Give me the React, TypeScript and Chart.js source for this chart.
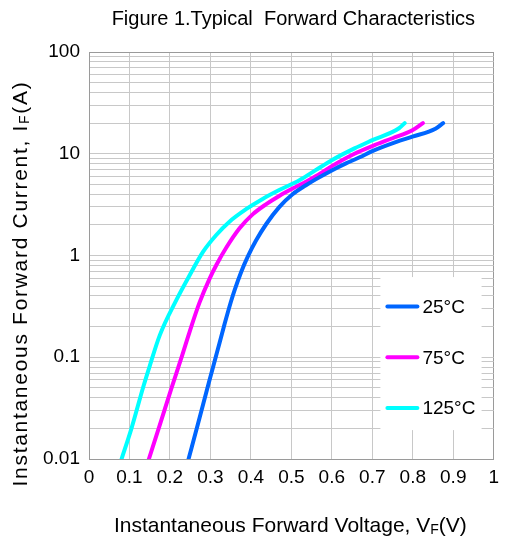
import { useEffect, useRef } from 'react';
import { Chart, registerables } from 'chart.js';

Chart.register(...registerables);

const FONT = '"Liberation Sans", Arial, sans-serif';

const chartTitle = 'Figure 1.Typical  Forward Characteristics';
const xTitleMain = 'Instantaneous Forward Voltage, V';
const yTitleMain = 'Instantaneous Forward Current, I';
const titleSub = 'F';
const xTitleUnit = '(V)';
const yTitleUnit = '(A)';

const seriesLabels = ['25°C', '75°C', '125°C'];
const seriesColors = ['#0066FF', '#FF00FF', '#00FFFF'];

// 25°C
const vf25 = [0.246, 0.269, 0.298, 0.3145, 0.335, 0.351, 0.360, 0.376, 0.392, 0.413, 0.438, 0.470, 0.503, 0.536, 0.560, 0.601, 0.635, 0.676, 0.700, 0.758, 0.799, 0.856, 0.875];
const if25 = [0.01, 0.022, 0.06, 0.105, 0.212, 0.355, 0.46, 0.69, 0.97, 1.41, 2.04, 2.99, 4.0, 4.9, 5.6, 6.9, 8.05, 9.5, 10.6, 13.0, 14.7, 17.6, 20];
// 75°C
const vf75 = [0.148, 0.175, 0.204, 0.228, 0.249, 0.273, 0.298, 0.315, 0.339, 0.372, 0.405, 0.438, 0.470, 0.503, 0.536, 0.560, 0.601, 0.656, 0.700, 0.750, 0.799, 0.825];
const if75 = [0.01, 0.0216, 0.05, 0.098, 0.18, 0.344, 0.593, 0.81, 1.19, 1.85, 2.55, 3.2, 3.85, 4.55, 5.3, 6.0, 7.6, 10.0, 11.9, 14.2, 17.0, 20];
// 125°C
const vf125 = [0.0805, 0.105, 0.134, 0.150, 0.175, 0.216, 0.249, 0.282, 0.3145, 0.347, 0.388, 0.429, 0.470, 0.520, 0.560, 0.601, 0.656, 0.700, 0.766, 0.780];
const if125 = [0.01, 0.02, 0.051, 0.082, 0.165, 0.366, 0.643, 1.09, 1.59, 2.15, 2.85, 3.6, 4.4, 5.5, 6.9, 8.7, 11.3, 13.6, 17.8, 20];

const xMin = 0;
const xMax = 1;
const xStep = 0.1;
const yMin = 0.01;
const yMax = 100;
const yMantissas = [1, 2, 3, 4, 5, 6, 7, 8, 9];

type Seg = { text: string; size: number; dy?: number };

function drawRich(
  ctx: CanvasRenderingContext2D,
  segs: Seg[],
  cx: number,
  baseline: number,
  rotated: boolean,
  spacing: number,
) {
  ctx.save();
  ctx.fillStyle = '#000';
  ctx.textBaseline = 'alphabetic';
  ctx.textAlign = 'left';
  (ctx as any).letterSpacing = `${spacing}px`;
  let total = 0;
  for (const s of segs) {
    ctx.font = `${s.size}px ${FONT}`;
    total += ctx.measureText(s.text).width;
  }
  if (rotated) {
    ctx.translate(baseline, cx);
    ctx.rotate(-Math.PI / 2);
  } else {
    ctx.translate(cx, baseline);
  }
  let x = -total / 2;
  for (const s of segs) {
    ctx.font = `${s.size}px ${FONT}`;
    ctx.fillText(s.text, x, s.dy || 0);
    x += ctx.measureText(s.text).width;
  }
  ctx.restore();
}

const overlayPlugin = {
  id: 'overlay',
  afterDraw(chart: any) {
    const ctx: CanvasRenderingContext2D = chart.ctx;
    const ca = chart.chartArea;
    const midX = (ca.left + ca.right) / 2;
    const midY = (ca.top + ca.bottom) / 2;

    // Title
    ctx.save();
    ctx.font = `20px ${FONT}`;
    ctx.fillStyle = '#000';
    ctx.textAlign = 'center';
    ctx.textBaseline = 'middle';
    ctx.fillText(chartTitle, midX + 2, 19);
    ctx.restore();

    // Axis titles
    drawRich(ctx, [
      { text: xTitleMain, size: 21 },
      { text: titleSub, size: 14, dy: 2 },
      { text: xTitleUnit, size: 21 },
    ], midX - 1, ca.bottom + 73, false, 0);
    drawRich(ctx, [
      { text: yTitleMain, size: 21 },
      { text: titleSub, size: 14, dy: 2 },
      { text: yTitleUnit, size: 21 },
    ], midY + 28, 27, true, 1.7);

    // Legend box
    const w = ca.right - ca.left;
    const h = ca.bottom - ca.top;
    const bx = ca.left + 0.72 * w;
    const by = ca.top + 0.553 * h;
    const bw = 0.25 * w;
    const bh = 0.376 * h;
    ctx.save();
    ctx.fillStyle = '#fff';
    ctx.fillRect(bx, by, bw, bh);
    chart.data.datasets.forEach((ds: any, i: number) => {
      const ly = by + 29.5 + i * 50.7;
      ctx.strokeStyle = ds.borderColor;
      ctx.lineWidth = 4;
      ctx.lineCap = 'round';
      ctx.beginPath();
      ctx.moveTo(bx + 7, ly);
      ctx.lineTo(bx + 37, ly);
      ctx.stroke();
      ctx.fillStyle = '#000';
      ctx.font = `19px ${FONT}`;
      ctx.textAlign = 'left';
      ctx.textBaseline = 'middle';
      ctx.fillText(ds.label, bx + 42, ly + 1);
    });
    ctx.restore();
  },
};

function toPoints(xs: number[], ys: number[]) {
  return xs.map((x, i) => ({ x, y: ys[i] }));
}

export default function App() {
  const ref = useRef<HTMLCanvasElement>(null);

  useEffect(() => {
    if (!ref.current) return;
    const series = [
      toPoints(vf25, if25),
      toPoints(vf75, if75),
      toPoints(vf125, if125),
    ];
    const yTicks: number[] = [];
    for (let k = -2; k <= 2; k++) {
      for (const m of yMantissas) {
        const v = Number((m * Math.pow(10, k)).toPrecision(3));
        if (v >= yMin && v <= yMax) yTicks.push(v);
      }
    }
    const isMajor = (v: number) => Math.abs(Math.log10(v) - Math.round(Math.log10(v))) < 1e-9;

    const chart = new Chart(ref.current, {
      type: 'line',
      data: {
        datasets: series.map((pts, i) => ({
          label: seriesLabels[i],
          data: pts,
          borderColor: seriesColors[i],
          backgroundColor: seriesColors[i],
          borderWidth: 4,
          pointRadius: 0,
          cubicInterpolationMode: 'monotone' as const,
          borderCapStyle: 'round' as const,
          borderJoinStyle: 'round' as const,
          fill: false,
        })),
      },
      options: {
        animation: false,
        responsive: true,
        maintainAspectRatio: false,
        layout: { padding: { left: 0, top: 52, right: 11, bottom: 54 } },
        plugins: {
          legend: { display: false },
          tooltip: { enabled: false },
          title: { display: false },
        },
        scales: {
          x: {
            type: 'linear',
            min: xMin,
            max: xMax,
            afterFit: (s: any) => { s.height = 30; },
            afterBuildTicks: (s: any) => {
              const t = [];
              for (let v = xMin; v <= xMax + 1e-9; v += xStep) t.push({ value: Number(v.toFixed(1)) });
              s.ticks = t;
            },
            ticks: {
              color: '#000',
              font: { family: FONT, size: 19 },
              padding: 7,
              maxRotation: 0,
              autoSkip: false,
              callback: (v: any) => String(Number(Number(v).toFixed(1))),
            },
            grid: {
              color: (c: any) => (c.tick && c.tick.value === xMax ? '#9a9a9a' : '#c8c8c8'),
              lineWidth: 1,
              drawTicks: false,
            },
            border: { display: true, color: '#9a9a9a', width: 1 },
          },
          y: {
            type: 'logarithmic',
            min: yMin,
            max: yMax,
            afterFit: (s: any) => { s.width = 89; },
            afterBuildTicks: (s: any) => {
              s.ticks = yTicks.map((v) => ({ value: v, major: isMajor(v) }));
            },
            ticks: {
              color: '#000',
              font: { family: FONT, size: 19 },
              padding: 9,
              autoSkip: false,
              callback: (v: any) => (isMajor(Number(v)) ? String(Number(v)) : ''),
            },
            grid: {
              color: (c: any) => (c.tick && c.tick.value === yMax ? '#9a9a9a' : '#c8c8c8'),
              lineWidth: 1,
              drawTicks: false,
            },
            border: { display: true, color: '#9a9a9a', width: 1 },
          },
        },
      },
      plugins: [overlayPlugin],
    } as any);
    return () => chart.destroy();
  }, []);

  return (
    <div style={{ position: 'fixed', left: 0, top: 0, width: 506, height: 543, background: '#fff' }}>
      <canvas ref={ref} />
    </div>
  );
}
